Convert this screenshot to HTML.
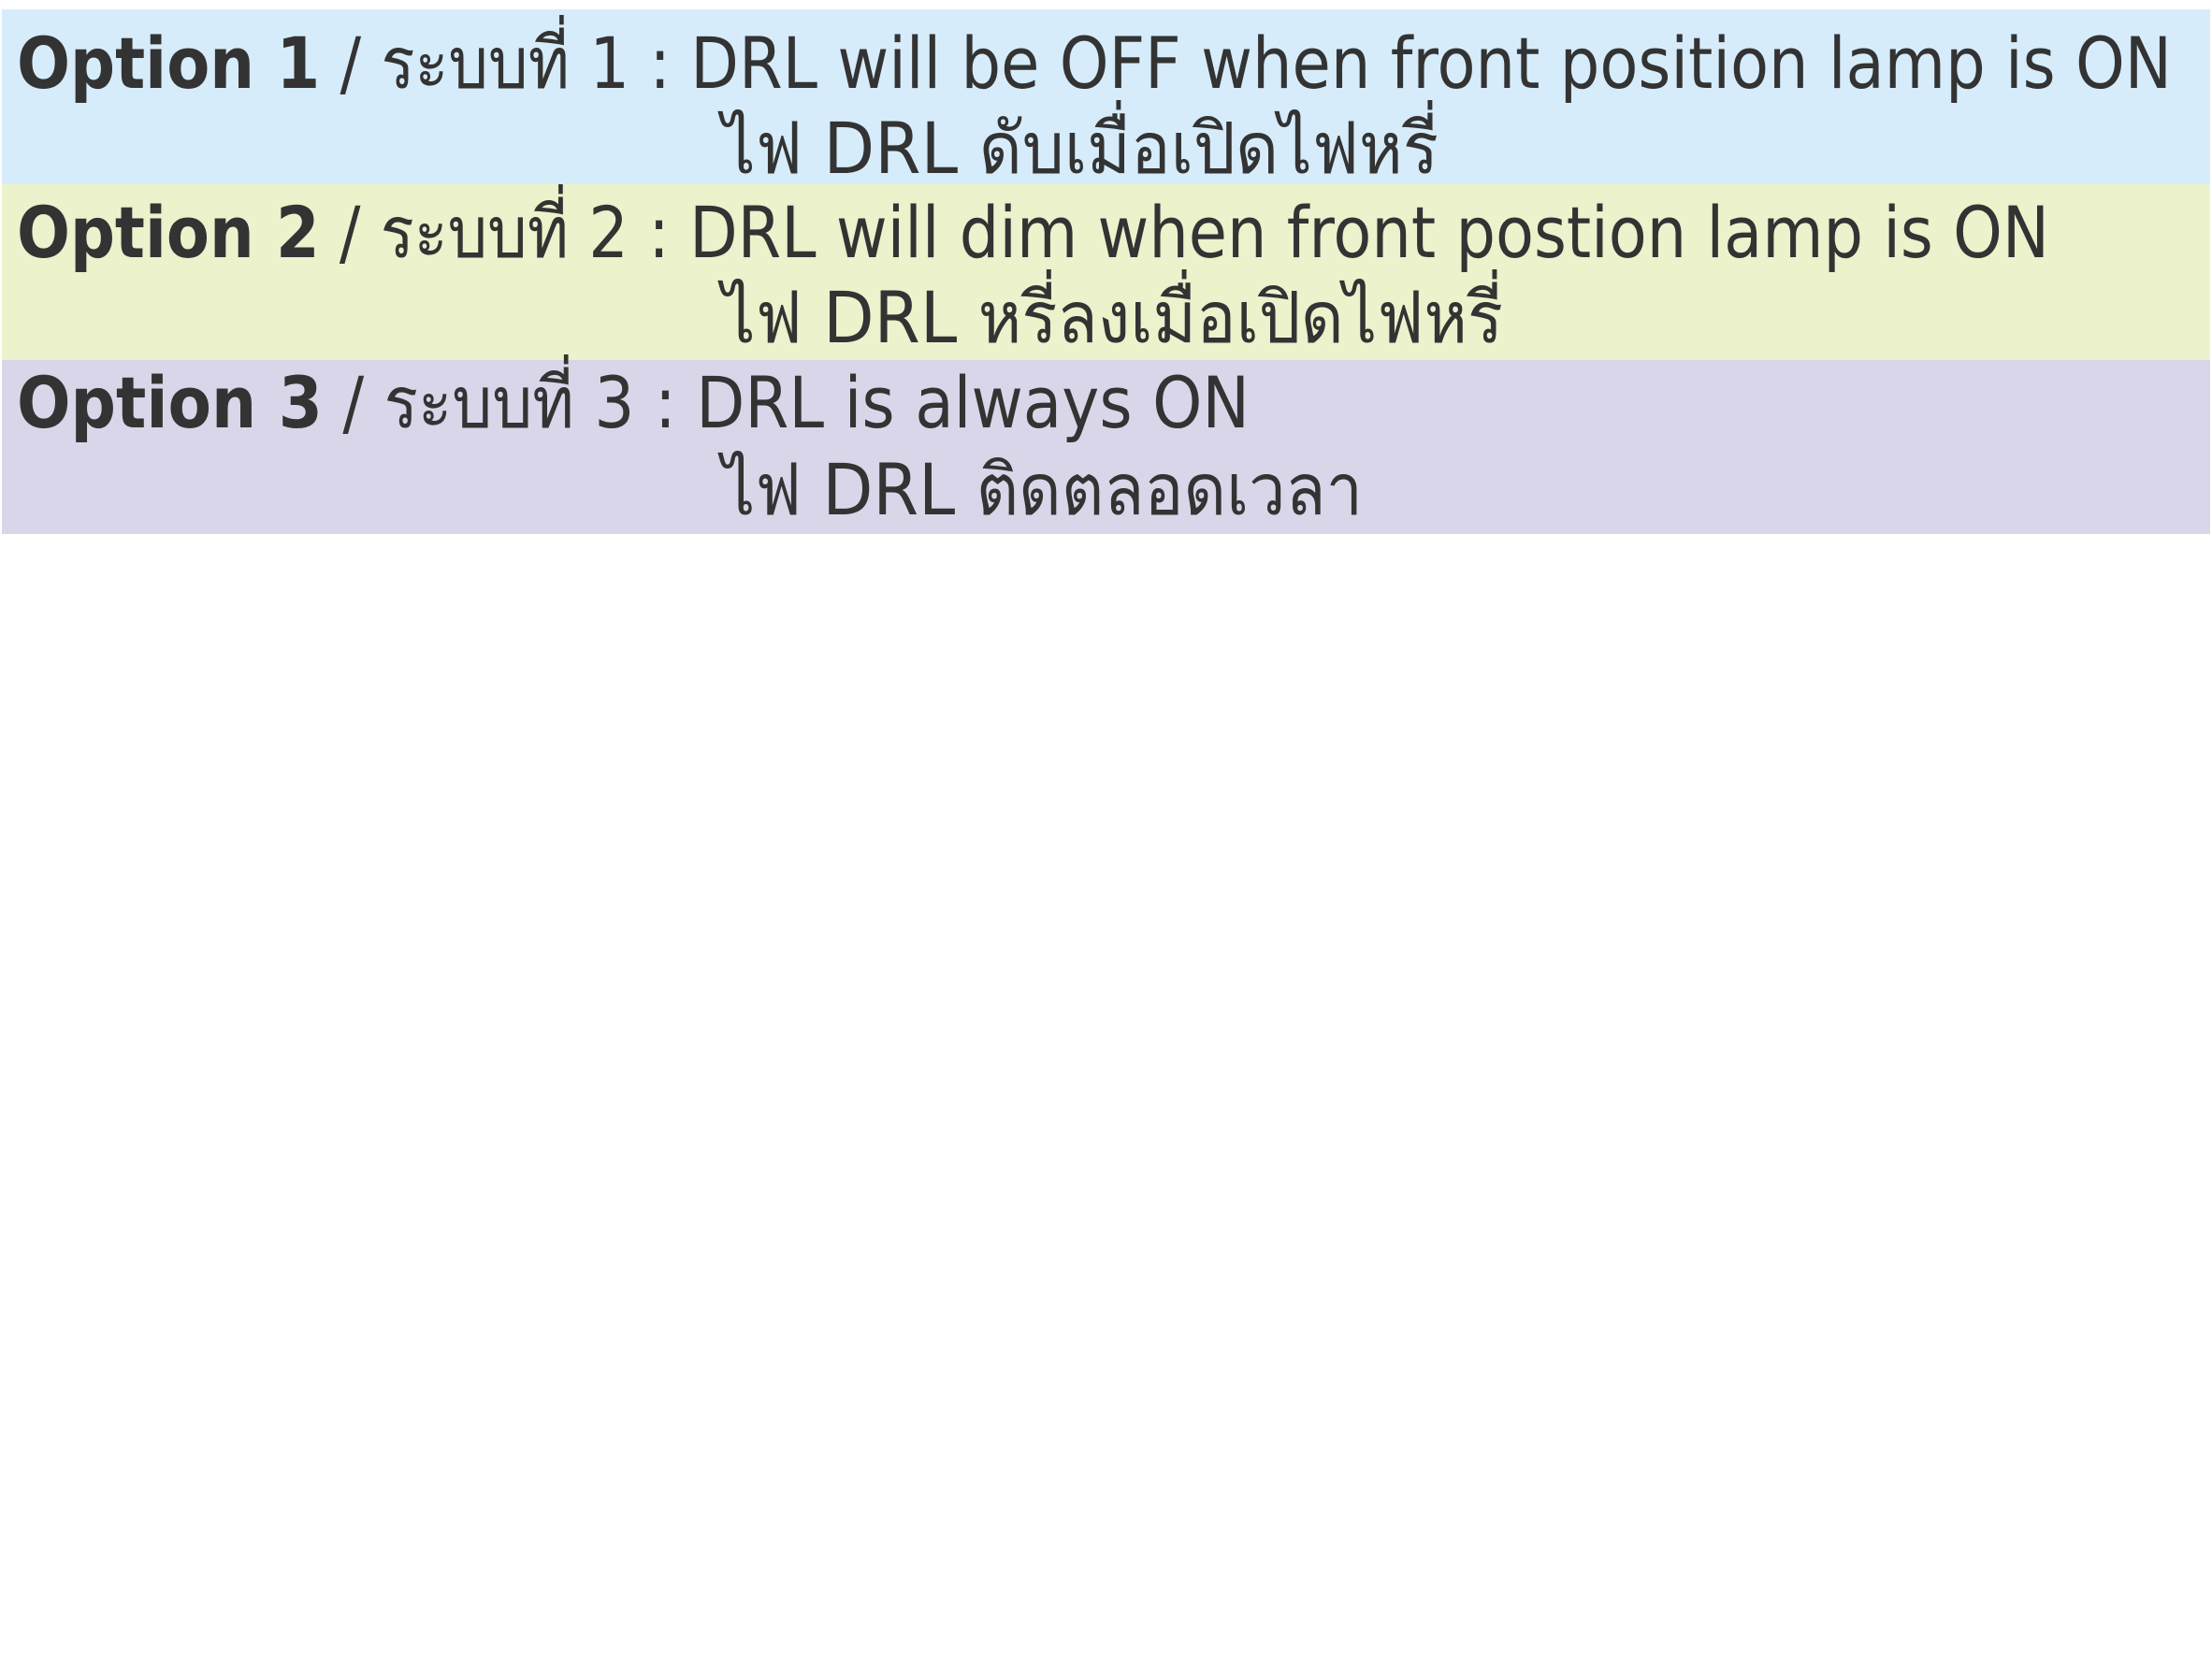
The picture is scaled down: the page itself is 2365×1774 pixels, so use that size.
<!DOCTYPE html>
<html><head><meta charset="utf-8"><style>
html,body{margin:0;padding:0;background:#fff;width:2365px;height:1774px;overflow:hidden}
svg{display:block}
text{font-family:"DejaVu Sans","Liberation Sans",sans-serif;font-size:76px;fill:#333}
.b{font-weight:bold}
</style></head><body>
<svg width="2365" height="1774" xmlns="http://www.w3.org/2000/svg">
<rect x="2" y="10" width="2361" height="187" fill="#d6ecfa"/>
<rect x="2" y="197" width="2361" height="188" fill="#ebf2cc"/>
<rect x="2" y="385" width="2361" height="186" fill="#d9d6e9"/>
<text x="18" y="94" textLength="2304" lengthAdjust="spacingAndGlyphs"><tspan class="b">Option 1</tspan> / ระบบที่ 1 : DRL will be OFF when front position lamp is ON</text>
<text x="772" y="185" textLength="766" lengthAdjust="spacingAndGlyphs">ไฟ DRL ดับเมื่อเปิดไฟหรี่</text>
<text x="18" y="275" textLength="2173" lengthAdjust="spacingAndGlyphs"><tspan class="b">Option 2</tspan> / ระบบที่ 2 : DRL will dim when front postion lamp is ON</text>
<text x="772" y="366" textLength="835" lengthAdjust="spacingAndGlyphs">ไฟ DRL หรี่ลงเมื่อเปิดไฟหรี่</text>
<text x="18" y="457" textLength="1318" lengthAdjust="spacingAndGlyphs"><tspan class="b">Option 3</tspan> / ระบบที่ 3 : DRL is always ON</text>
<text x="772" y="550" textLength="685" lengthAdjust="spacingAndGlyphs">ไฟ DRL ติดตลอดเวลา</text>
</svg>
</body></html>
